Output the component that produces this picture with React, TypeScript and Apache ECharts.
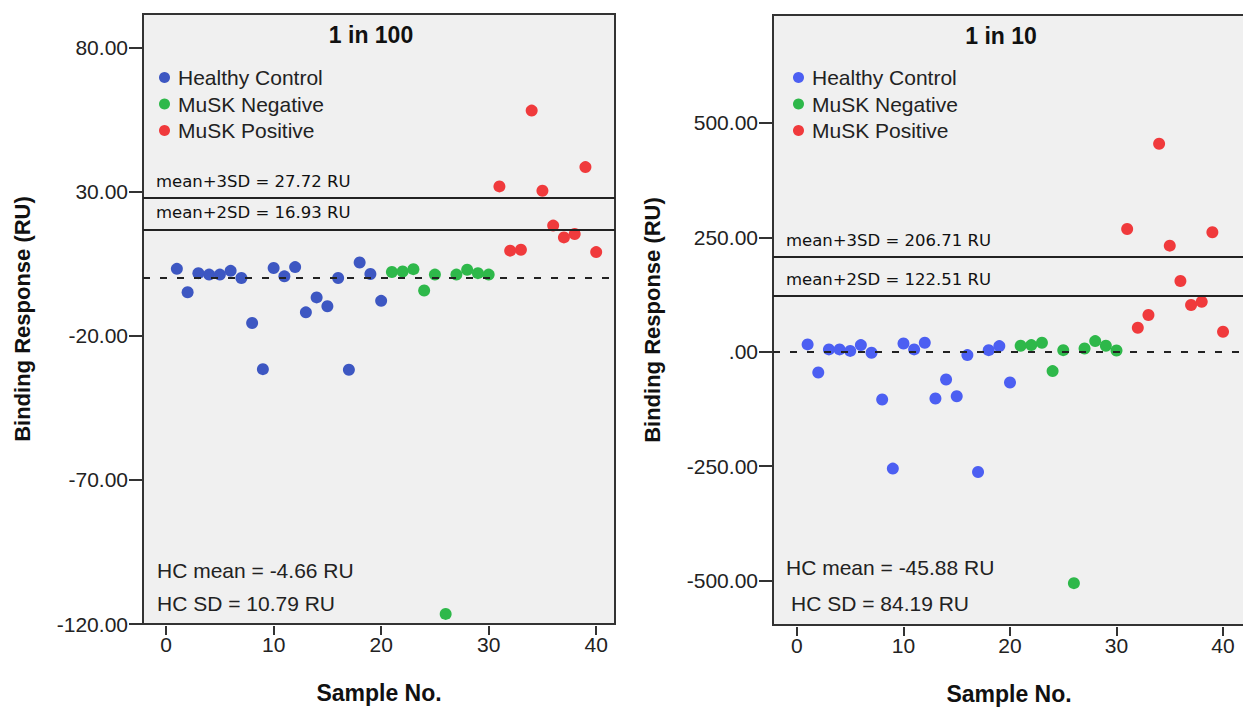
import React, { useEffect, useRef } from "react";
import * as echarts from "echarts";

// ---- data ----
const hcSamples = [1, 2, 3, 4, 5, 6, 7, 8, 9, 10, 11, 12, 13, 14, 15, 16, 17, 18, 19, 20];
const negSamples = [21, 22, 23, 24, 25, 26, 27, 28, 29, 30];
const posSamples = [31, 32, 33, 34, 35, 36, 37, 38, 39, 40];

const hc100 = [3.2, -4.9, 1.7, 1.2, 1.2, 2.5, 0.0, -15.6, -31.6, 3.5, 0.6, 3.8, -11.9, -6.7, -9.8, 0.0, -31.8, 5.4, 1.4, -7.9];
const neg100 = [2.1, 2.3, 3.1, -4.3, 1.2, -116.5, 1.2, 2.9, 1.7, 1.2];
const pos100 = [31.8, 9.5, 9.8, 58.1, 30.3, 18.2, 14.1, 15.3, 38.5, 9.0];

const hc10 = [16.2, -45.1, 5.2, 5.2, 2.0, 14.7, -2.2, -104.2, -255.2, 18.3, 5.2, 19.7, -102.0, -60.5, -97.0, -7.2, -262.6, 3.6, 12.5, -67.0];
const neg10 = [13.1, 14.7, 19.7, -42.2, 3.6, -505.5, 7.3, 23.4, 13.1, 2.9];
const pos10 = [268.5, 52.5, 80.3, 454.5, 232.0, 154.7, 102.2, 109.4, 261.2, 43.8];

const panelTitles = ["1 in 100", "1 in 10"];
const sd3 = [27.72, 206.71];
const sd2 = [16.93, 122.51];
const hcMean = ["-4.66", "-45.88"];
const hcSD = ["10.79", "84.19"];

const xTicks = [0, 10, 20, 30, 40];
const yTicks100 = [-120, -70, -20, 30, 80];
const yTicks10 = [-500, -250, 0, 250, 500];

const groupNames = ["Healthy Control", "MuSK Negative", "MuSK Positive"];

const FONT = "'Liberation Sans', Arial, sans-serif";
const BLUE = ["#3d57c2", "#4c5ff2"];
const GREEN = "#2eb84a";
const RED = "#f03a3c";

const pairs = (xs: number[], ys: number[]) => xs.map((x, i) => [x, ys[i]]);

export default function App() {
  const ref = useRef<HTMLDivElement>(null);
  useEffect(() => {
    if (!ref.current) return;
    const chart = echarts.init(ref.current, null, { renderer: "svg" });

    const grids = [
      { left: 143, top: 14, width: 472, height: 610 },
      { left: 773, top: 15, width: 520, height: 610 },
    ];
    const xRanges = [
      [-2.15, 41.75],
      [-2.25, 46.57],
    ];
    const yRanges = [
      [-120, 91.6],
      [-597, 736],
    ];
    const yTicks = [yTicks100, yTicks10];
    const dataSets = [
      [hc100, neg100, pos100],
      [hc10, neg10, pos10],
    ];
    const sampleSets = [hcSamples, negSamples, posSamples];

    const lineLabel = {
      show: true,
      position: "insideStartTop",
      distance: [13, 8],
      color: "#111",
      fontSize: 16.5,
      fontFamily: "'DejaVu Sans', sans-serif",
    };

    const series: any[] = [];
    [0, 1].forEach((p) => {
      [0, 1, 2].forEach((g) => {
        const s: any = {
          type: "scatter",
          name: groupNames[g],
          xAxisIndex: p,
          yAxisIndex: p,
          symbol: "circle",
          symbolSize: 12,
          itemStyle: { color: g === 0 ? BLUE[p] : g === 1 ? GREEN : RED, opacity: 1 },
          data: pairs(sampleSets[g], dataSets[p][g]),
          emphasis: { disabled: true },
        };
        if (g === 0) {
          s.markLine = {
            silent: true,
            symbol: ["none", "none"],
            animation: false,
            data: [
              {
                yAxis: sd3[p],
                lineStyle: { type: "solid", color: "#222", width: 2 },
                label: { ...lineLabel, formatter: `mean+3SD = ${sd3[p].toFixed(2)} RU` },
              },
              {
                yAxis: sd2[p],
                lineStyle: { type: "solid", color: "#222", width: 2 },
                label: { ...lineLabel, formatter: `mean+2SD = ${sd2[p].toFixed(2)} RU` },
              },
              {
                yAxis: 0,
                lineStyle: { type: [7, 10], color: "#222", width: 2 },
                label: { show: false },
              },
            ],
          };
        }
        series.push(s);
      });
    });

    const option: any = {
      animation: false,
      backgroundColor: "#ffffff",
      textStyle: { fontFamily: FONT },
      grid: grids.map((g) => ({
        ...g,
        show: true,
        backgroundColor: "#f0f0f0",
        borderColor: "#333",
        borderWidth: 2,
      })),
      xAxis: [0, 1].map((p) => ({
        type: "value",
        gridIndex: p,
        min: xRanges[p][0],
        max: xRanges[p][1],
        position: "bottom",
        offset: 2,
        axisLine: { show: false, onZero: false },
        splitLine: { show: false },
        axisTick: {
          show: true,
          length: 9,
          customValues: xTicks,
          lineStyle: { color: "#333", width: 2 },
        },
        axisLabel: {
          customValues: xTicks,
          fontSize: 21,
          color: "#222",
          margin: 8,
          fontFamily: FONT,
        },
        name: p === 0 ? "Sample No." : "",
        nameLocation: "middle",
        nameGap: 55,
        nameTextStyle: { fontSize: 23, fontWeight: "bold", color: "#111", fontFamily: FONT },
      })),
      yAxis: [0, 1].map((p) => ({
        type: "value",
        gridIndex: p,
        min: yRanges[p][0],
        max: yRanges[p][1],
        position: "left",
        axisLine: { show: false, onZero: false },
        splitLine: { show: false },
        axisTick: {
          show: true,
          length: 14,
          customValues: yTicks[p],
          lineStyle: { color: "#333", width: 2 },
        },
        axisLabel: {
          customValues: yTicks[p],
          fontSize: 21,
          color: "#222",
          margin: 15,
          fontFamily: FONT,
          formatter: (v: number) => (v === 0 ? ".00" : v.toFixed(2)),
        },
        name: "Binding Response (RU)",
        nameLocation: "middle",
        nameGap: 110,
        nameTextStyle: { fontSize: 22, fontWeight: "bold", color: "#111", fontFamily: FONT },
      })),
      legend: [0, 1].map((p) => ({
        orient: "vertical",
        left: p === 0 ? 154 : 788,
        top: 62,
        icon: "circle",
        itemWidth: 11,
        itemHeight: 11,
        itemGap: 5.5,
        selectedMode: false,
        textStyle: { fontSize: 21, color: "#222", lineHeight: 21, padding: [0, 0, 0, 3], fontFamily: FONT },
        data: groupNames.map((n, g) => ({
          name: n,
          itemStyle: { color: g === 0 ? BLUE[p] : g === 1 ? GREEN : RED },
        })),
      })),
      graphic: [
        {
          type: "text",
          x: 371,
          y: 35,
          style: { text: panelTitles[0], font: `bold 23px ${FONT}`, fill: "#111", align: "center", verticalAlign: "middle" },
        },
        {
          type: "text",
          x: 1001,
          y: 36,
          style: { text: panelTitles[1], font: `bold 23px ${FONT}`, fill: "#111", align: "center", verticalAlign: "middle" },
        },
        {
          type: "text",
          x: 1009,
          y: 694,
          style: { text: "Sample No.", font: `bold 23px ${FONT}`, fill: "#111", align: "center", verticalAlign: "middle" },
        },
        {
          type: "text",
          x: 157,
          y: 570,
          style: { text: `HC mean = ${hcMean[0]} RU`, font: `21px ${FONT}`, fill: "#222", verticalAlign: "middle" },
        },
        {
          type: "text",
          x: 157,
          y: 603,
          style: { text: `HC SD = ${hcSD[0]} RU`, font: `21px ${FONT}`, fill: "#222", verticalAlign: "middle" },
        },
        {
          type: "text",
          x: 786,
          y: 567,
          style: { text: `HC mean = ${hcMean[1]} RU`, font: `21px ${FONT}`, fill: "#222", verticalAlign: "middle" },
        },
        {
          type: "text",
          x: 791,
          y: 603,
          style: { text: `HC SD = ${hcSD[1]} RU`, font: `21px ${FONT}`, fill: "#222", verticalAlign: "middle" },
        },
      ],
      series,
    };

    chart.setOption(option);
    return () => chart.dispose();
  }, []);

  return (
    <div
      style={{ position: "absolute", left: 0, top: 0, width: 1243, height: 709, overflow: "hidden", background: "#fff" }}
    >
      <div ref={ref} style={{ position: "absolute", left: 0, top: 0, width: 1320, height: 709 }} />
    </div>
  );
}
